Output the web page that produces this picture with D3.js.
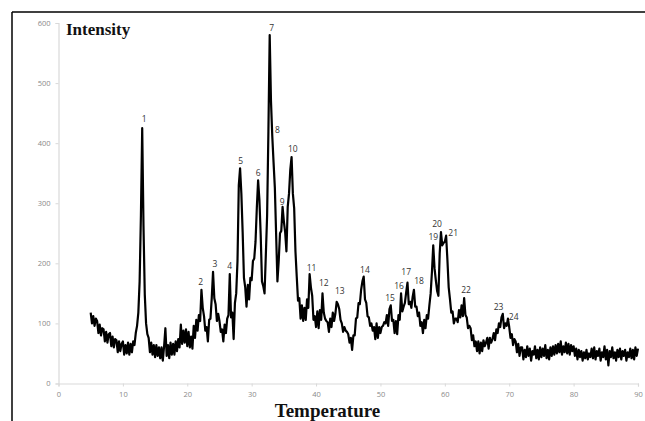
<!DOCTYPE html>
<html>
<head>
<meta charset="utf-8">
<script src="https://cdn.jsdelivr.net/npm/d3@7"></script>
<style>
  html, body { margin: 0; padding: 0; background: #fff; }
  svg { display: block; }
</style>
</head>
<body>
<svg id="chart" width="645" height="421"></svg>
<script>
// ---- data ----
const tempStart = 5;      // first temperature of the scan
const tempStep = 0.2;     // sampling step of the scan
const intensity = [
  // 5
  118,100,112,96,108,
  // 6
  104,84,98,80,92,
  // 7
  90,70,86,68,82,
  // 8
  84,62,78,60,74,
  // 9
  72,52,70,54,66,
  // 10
  70,48,64,50,68,
  // 11
  48,66,52,70,64,
  // 12
  84,96,118,170,280,
  // 13
  425,262,148,100,82,
  // 14
  76,52,68,48,64,
  // 15
  44,64,46,60,42,
  // 16
  60,38,62,92,46,
  // 17
  64,42,68,48,66,
  // 18
  48,70,54,74,60,
  // 19
  98,66,88,68,90,
  // 20
  62,86,60,78,58,
  // 21
  96,76,106,88,114,
  // 22
  104,156,126,112,88,
  // 23
  94,70,106,108,142,
  // 24
  186,142,132,104,116,
  // 25
  104,86,90,70,98,
  // 26
  84,108,114,182,110,
  // 27
  118,74,134,150,204,
  // 28
  330,358,316,252,176,
  // 29
  160,128,164,140,176,
  // 30
  172,204,208,236,292,
  // 31
  338,306,248,170,162,
  // 32
  150,214,280,420,580,
  // 33
  470,412,368,326,248,
  // 34
  170,204,250,254,294,
  // 35
  270,252,220,294,316,
  // 36
  356,377,316,292,220,
  // 37
  178,138,142,108,130,
  // 38
  104,126,106,140,126,
  // 39
  182,160,146,106,112,
  // 40
  94,120,92,122,106,
  // 41
  150,118,108,104,102,
  // 42
  86,108,94,118,104,
  // 43
  116,136,132,124,106,
  // 44
  100,86,94,88,86,
  // 45
  82,68,76,56,80,
  // 46
  80,108,110,134,132,
  // 47
  156,170,178,140,134,
  // 48
  112,110,96,100,88,
  // 49
  94,74,100,76,94,
  // 50
  84,94,96,102,100,
  // 51
  114,96,124,130,104,
  // 52
  106,84,104,82,114,
  // 53
  106,150,120,128,134,
  // 54
  152,168,132,136,126,
  // 55
  144,156,128,128,112,
  // 56
  118,96,102,84,106,
  // 57
  92,114,108,130,150,
  // 58
  186,230,192,172,154,
  // 59
  146,216,252,230,234,
  // 60
  236,246,206,160,140,
  // 61
  118,120,100,108,108,
  // 62
  102,122,110,130,112,
  // 63
  142,114,110,92,96,
  // 64
  92,72,80,62,70,
  // 65
  54,70,50,68,54,
  // 66
  72,62,68,76,58,
  // 67
  76,68,74,84,72,
  // 68
  90,84,100,94,110,
  // 69
  116,92,100,96,108,
  // 70
  94,76,82,64,74,
  // 71
  70,52,66,46,60,
  // 72
  60,40,56,44,62,
  // 73
  46,58,38,54,48,
  // 74
  62,42,56,40,60,
  // 75
  44,58,46,64,42,
  // 76
  56,40,60,46,62,
  // 77
  48,64,50,66,52,
  // 78
  70,48,62,52,68,
  // 79
  50,66,48,64,54,
  // 80
  62,46,58,40,56,
  // 81
  44,54,38,52,42,
  // 82
  56,40,50,44,58,
  // 83
  42,60,40,54,46,
  // 84
  58,38,52,44,62,
  // 85
  40,56,30,54,44,
  // 86
  60,42,52,38,56,
  // 87
  44,58,40,54,46,
  // 88
  56,38,52,44,58,
  // 89
  42,56,40,60,46,
  // 90
  58
];
const temps = intensity.map((_, i) => +(tempStart + i * tempStep).toFixed(1));

const peakLabels = ["1","2","3","4","5","6","7","8","9","10","11","12",
                    "13","14","15","16","17","18","19","20","21","22","23","24"];
const peakLabelTemp = [13.3,22.1,24.3,26.6,28.3,31.0,33.1,34.0,34.75,36.4,39.3,41.2,
                       43.7,47.6,51.5,52.9,54.0,56.0,58.2,58.8,61.3,63.3,68.35,70.7];
const peakLabelInt  = [440,169,199,196,371,350,591,422,302,390,192,167,
                       154,189,142,162,185,171,244,266,250,156,127,110];

const xTicks = [0,10,20,30,40,50,60,70,80,90];
const yTicks = [0,100,200,300,400,500,600];
const xTitle = "Temperature";
const yTitle = "Intensity";

// ---- drawing ----
const svg = d3.select("#chart");

const x = d3.scaleLinear().domain([0, 90]).range([58.5, 638]);
const y = d3.scaleLinear().domain([0, 600]).range([383.5, 23]);

// outer frame (top and left edges visible)
svg.append("line").attr("x1", 12).attr("x2", 645).attr("y1", 12).attr("y2", 12)
  .attr("stroke", "#000").attr("stroke-width", 1.5);
svg.append("line").attr("x1", 12).attr("x2", 12).attr("y1", 12).attr("y2", 421)
  .attr("stroke", "#000").attr("stroke-width", 1.5);

const tickColor = "#8a8a8a";
const axisColor = "#d9d9d9";

const yAxis = svg.append("g").attr("transform", `translate(${x(0)},0)`)
  .call(d3.axisLeft(y).tickValues(yTicks).tickSize(3).tickPadding(5).tickFormat(d3.format("d")));
const xAxis = svg.append("g").attr("transform", `translate(0,${y(0)})`)
  .call(d3.axisBottom(x).tickValues(xTicks).tickSize(3).tickPadding(5).tickFormat(d3.format("d")));

[xAxis, yAxis].forEach(g => {
  g.select(".domain").attr("stroke", axisColor).attr("stroke-width", 1.2);
  g.selectAll(".tick line").attr("stroke", axisColor);
  g.selectAll(".tick text").attr("fill", tickColor)
    .style("font-family", "'Open Sans', 'Liberation Sans', sans-serif")
    .style("font-size", "7.5px");
});

// data line
const line = d3.line()
  .x((d, i) => x(temps[i]))
  .y(d => y(d));

svg.append("path")
  .datum(intensity)
  .attr("d", line)
  .attr("fill", "none")
  .attr("stroke", "#000")
  .attr("stroke-width", 2.2)
  .attr("stroke-linejoin", "round");

// peak labels
svg.append("g").selectAll("text")
  .data(peakLabels)
  .join("text")
  .attr("x", (d, i) => x(peakLabelTemp[i]))
  .attr("y", (d, i) => y(peakLabelInt[i]) + 3)
  .attr("text-anchor", "middle")
  .attr("fill", "#333")
  .style("font-family", "'Open Sans', 'Liberation Sans', sans-serif")
  .style("font-size", "8.5px")
  .text(d => d);

// titles
svg.append("text")
  .attr("x", 66).attr("y", 35)
  .attr("fill", "#111")
  .style("font-family", "'Liberation Serif', 'DejaVu Serif', serif")
  .style("font-weight", "bold")
  .style("font-size", "17px")
  .text(yTitle);

svg.append("text")
  .attr("x", 327.5).attr("y", 417)
  .attr("text-anchor", "middle")
  .attr("fill", "#111")
  .style("font-family", "'Liberation Serif', 'DejaVu Serif', serif")
  .style("font-weight", "bold")
  .style("font-size", "19px")
  .text(xTitle);
</script>
</body>
</html>
